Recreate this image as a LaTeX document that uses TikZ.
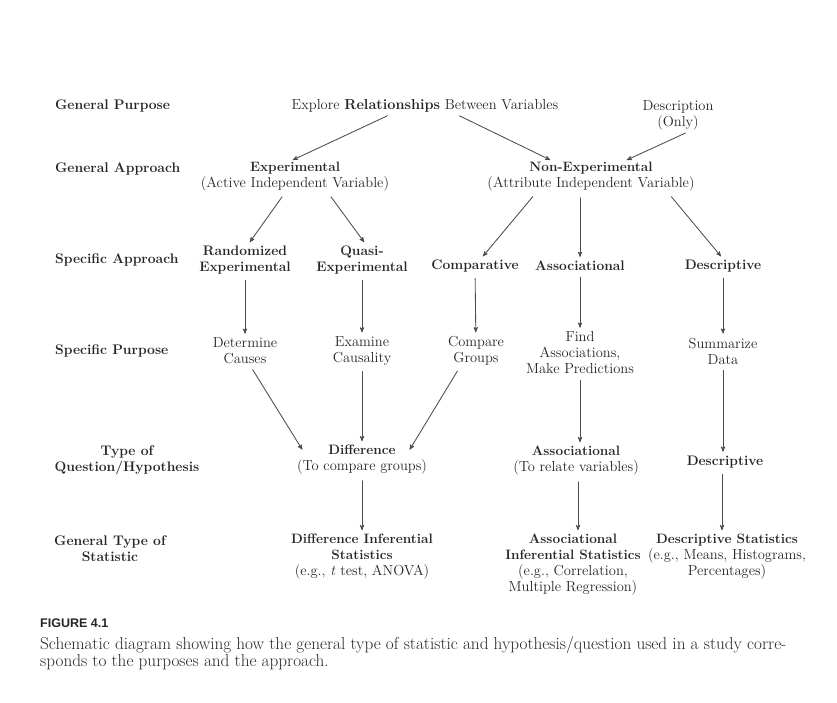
\documentclass[tikz,border=0pt]{standalone}
\usepackage{fontspec}
\newfontfamily\figfont{Liberation Sans}
\usetikzlibrary{arrows}
\newcommand\hb[1]{{\fontsize{13.6}{16}\selectfont\bfseries #1}}

\begin{document}
\begin{tikzpicture}[line cap=round,line join=round,>=stealth',x=1pt,y=-1pt,
  txt/.style={align=center,inner sep=1pt,text=black!85,font=\fontsize{14.5}{16}\selectfont},
  head/.style={txt,font=\fontsize{13.8}{16}\selectfont\bfseries},
  rowlabel/.style={anchor=west,inner sep=0pt,text=black!85,font=\fontsize{13.9}{16}\selectfont\bfseries},
  lowlabel/.style={rowlabel,anchor=center,align=center},
  conn/.style={->,color=black!70,line width=0.85pt,shorten <=5pt,shorten >=3pt}]
\useasboundingbox[fill=white] (0,0) rectangle (837,702);

%row labels
\node [rowlabel] (lpurpose) at (55,106) {General Purpose};
\node [rowlabel] (lapproach) at (55,169) {General Approach};
\node [rowlabel] (lspecapp) at (55,260) {Specific Approach};
\node [rowlabel] (lspecpur) at (55,351) {Specific Purpose};
\node [lowlabel] (lquestion) at (127,460) {Type of\\Question/Hypothesis};
\node [lowlabel] (lstatistic) at (110,549) {General Type of\\Statistic};

%general purpose
\node [txt] (explore) at (425,106) {Explore \textbf{Relationships} Between Variables};
\node [txt] (description) at (678,115) {Description\\(Only)};

%general approach
\node [txt] (exper) at (295,177) {\hb{Experimental}\\(Active Independent Variable)};
\node [txt] (nonexp) at (591,177) {\hb{Non-Experimental}\\(Attribute Independent Variable)};

%specific approach
\node [head] (random) at (245,260) {Randomized\\Experimental};
\node [head] (quasi) at (362,260) {Quasi-\\Experimental};
\node [head] (compar) at (475,266) {Comparative};
\node [head] (assoc) at (580,266) {Associational};
\node [head] (descr) at (723,266) {Descriptive};

%specific purpose
\node [txt] (causes) at (245,351) {Determine\\Causes};
\node [txt] (causal) at (362,351) {Examine\\Causality};
\node [txt] (groups) at (476,351) {Compare\\Groups};
\node [txt] (predict) at (580,353) {Find\\Associations,\\Make Predictions};
\node [txt] (summ) at (723,351) {Summarize\\Data};

%type of question
\node [txt] (diffq) at (362,460) {\hb{Difference}\\(To compare groups)};
\node [txt] (assocq) at (576,461) {\hb{Associational}\\(To relate variables)};
\node [head] (descrq) at (725,462) {Descriptive};

%type of statistic
\node [txt] (diffstat) at (362,557) {\hb{Difference Inferential}\\\hb{Statistics}\\(e.g., \textit{t} test, ANOVA)};
\node [txt] (assocstat) at (573,565) {\hb{Associational}\\\hb{Inferential Statistics}\\(e.g., Correlation,\\Multiple Regression)};
\node [txt] (descrstat) at (727,557) {\hb{Descriptive Statistics}\\(e.g., Means, Histograms,\\Percentages)};

%caption
\node [anchor=north west,inner sep=0pt,text=black!85,font=\figfont\bfseries\fontsize{12.5}{14}\selectfont] (figno) at (40,619) {FIGURE 4.1};
\node [anchor=north west,inner sep=0pt,align=left,text=black!85,font=\fontsize{17.2}{17}\selectfont] (caption) at (40,636)
  {Schematic diagram showing how the general type of statistic and hypothesis/question used in a study corre-\\sponds to the purposes and the approach.};

%arrows
\draw[conn] ([xshift=-33pt]explore.south) -- ([xshift=-5pt]exper.north);
\draw[conn] ([xshift=30pt]explore.south) -- ([xshift=-38pt]nonexp.north);
\draw[conn] ([xshift=12pt]description.south) -- ([xshift=33pt]nonexp.north);
\draw[conn] ([xshift=-10pt]exper.south) -- ([xshift=3pt]random.north);
\draw[conn] ([xshift=33pt]exper.south) -- ([xshift=4pt]quasi.north);
\draw[conn] ([xshift=-55pt]nonexp.south) -- ([xshift=6pt]compar.north);
\draw[conn] ([xshift=-11pt]nonexp.south) -- (assoc.north);
\draw[conn] ([xshift=77pt]nonexp.south) -- (descr.north);
\draw[conn] (random) -- (causes);
\draw[conn] (quasi) -- (causal);
\draw[conn] (compar) -- (groups);
\draw[conn] (assoc) -- (predict);
\draw[conn] (descr) -- (summ);
\draw[conn] ([xshift=5pt]causes.south) -- ([xshift=8pt,yshift=-8pt]diffq.north west);
\draw[conn] (causal) -- (diffq);
\draw[conn] ([xshift=-16pt]groups.south) -- ([xshift=-20pt,yshift=-8pt]diffq.north east);
\draw[conn] (predict.south) -- (predict.south |- assocq.north);
\draw[conn] (summ.south) -- (summ.south |- descrq.north);
\draw[conn] (diffq) -- (diffstat);
\draw[conn] ([xshift=2pt]assocq.south) -- ([xshift=2pt]assocq.south |- assocstat.north);
\draw[conn] ([xshift=-3pt]descrq.south) -- ([xshift=-3pt]descrq.south |- descrstat.north);
\end{tikzpicture}
\end{document}
